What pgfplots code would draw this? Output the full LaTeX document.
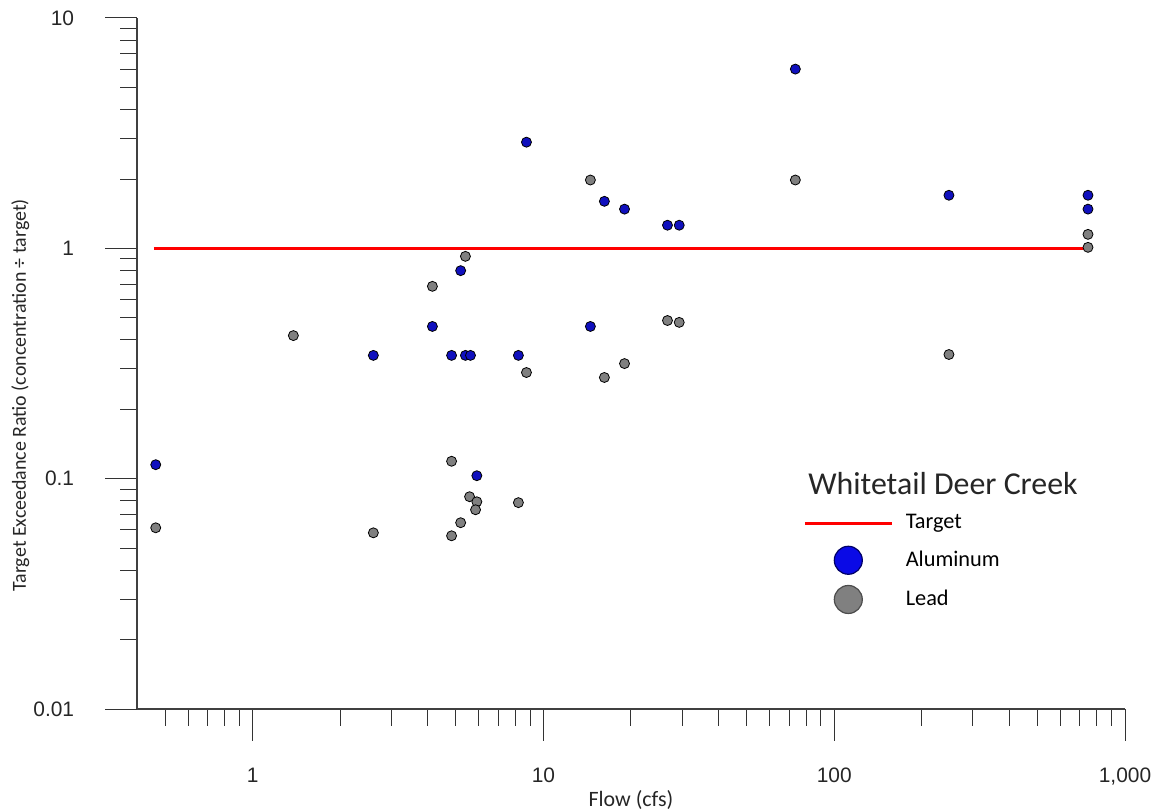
\documentclass[border=0pt]{standalone}
\usepackage{fontspec}
\setmainfont{Carlito}
\newfontfamily\arialfont{Liberation Sans}
\usepackage{pgfplots}
\pgfplotsset{compat=1.18}
\definecolor{alblue}{RGB}{16,16,190}
\definecolor{legblue}{RGB}{10,10,230}
\definecolor{pbgray}{RGB}{128,128,128}
\begin{document}
\begin{tikzpicture}
\begin{loglogaxis}[
  name=ax,
  scale only axis,
  width=494bp, height=345.5bp,
  xmin=0.4, xmax=1000, ymin=0.01, ymax=10,
  axis x line*=bottom, axis y line*=left,
  axis line style={draw=black!75, line width=0.75bp},
  tick align=outside,
  major tick length=16bp, minor tick length=8.5bp,
  tick style={black!80, line width=0.5bp},
  xtick={1,10,100,1000}, xticklabels={1,10,100,{1,000}},
  minor xtick={0.5,0.6,0.7,0.8,0.9,2,3,4,5,6,7,8,9,20,30,40,50,60,70,80,90,200,300,400,500,600,700,800,900},
  ytick={0.01,0.1,1,10}, yticklabels={0.01,0.1,1,10},
  minor ytick={0.02,0.03,0.04,0.05,0.06,0.07,0.08,0.09,0.2,0.3,0.4,0.5,0.6,0.7,0.8,0.9,2,3,4,5,6,7,8,9},
  ticklabel style={font=\arialfont\fontsize{10.5}{12}\selectfont, text=black!85},
  yticklabel style={xshift=-12bp},
  xticklabel style={yshift=-10bp},
  xlabel={Flow (cfs)},
  ylabel={Target Exceedance Ratio (concentration ÷ target)},
  xlabel style={at={(axis description cs:0.5,-0.132)}, anchor=center, font=\fontsize{11}{13}\selectfont, text=black!85},
  ylabel style={at={(axis description cs:-0.118,0.454)}, anchor=center, font=\fontsize{10}{12}\selectfont, text=black!85},
  clip=false,
  legend cell align=left,
  legend style={at={(axis description cs:0.674,0.288)}, anchor=north west, draw=none, fill=none, inner sep=0pt, row sep=5bp, font=\fontsize{11.2}{13}\selectfont},
]
\addplot[red, line width=1.5bp, legend image code/.code={\draw[red, line width=1.5bp] (0bp,0bp) -- (43.5bp,0bp);\path[draw=none,fill=none] (0bp,0bp) -- (48.5bp,0bp);}] coordinates {(0.457,1) (746,1)};
\addlegendentry{Target}
\addplot[only marks, mark=*, mark size=2.5bp, mark options={fill=alblue, draw=black, line width=0.4bp},
  legend image code/.code={\draw[fill=legblue, draw=black!60!blue, line width=0.6bp] (21.75bp,0bp) circle (7bp);\path[draw=none,fill=none] (0bp,0bp) -- (48.5bp,0bp);}]
coordinates {
(0.464,0.115) (2.6,0.343) (4.15,0.458) (4.83,0.343) (5.39,0.343) (5.61,0.343)
(5.19,0.80) (5.9,0.103) (8.2,0.343) (8.74,2.89) (14.5,0.458) (16.2,1.60)
(19.0,1.48) (26.7,1.26) (29.3,1.26) (73.5,6.0) (248,1.70) (746,1.70) (746,1.48)
};
\addlegendentry{Aluminum}
\addplot[only marks, mark=*, mark size=2.5bp, mark options={fill=pbgray, draw=black, line width=0.4bp},
  legend image code/.code={\draw[fill=pbgray, draw=black!70, line width=0.6bp] (21.75bp,0bp) circle (7bp);\path[draw=none,fill=none] (0bp,0bp) -- (48.5bp,0bp);}]
coordinates {
(0.464,0.0612) (1.38,0.418) (2.6,0.0582) (4.15,0.684) (5.39,0.923) (4.83,0.119)
(4.83,0.0565) (5.19,0.0644) (5.57,0.0835) (5.9,0.0794) (5.84,0.0733) (8.2,0.0787)
(8.74,0.289) (14.5,1.98) (16.2,0.275) (19.0,0.316) (26.7,0.486) (29.3,0.477)
(73.5,1.98) (248,0.346) (746,1.15) (746,1.01)
};
\addlegendentry{Lead}
\node[anchor=west, font=\fontsize{16}{19}\selectfont, text=black!85, inner sep=0pt] at (axis description cs:0.679,0.327) {Whitetail Deer Creek};
\end{loglogaxis}
\pgfresetboundingbox
\path[use as bounding box] ([xshift=-68.5bp,yshift=-51.5bp]ax.south west) rectangle ([xshift=15bp,yshift=9bp]ax.north east);
\end{tikzpicture}
\end{document}
